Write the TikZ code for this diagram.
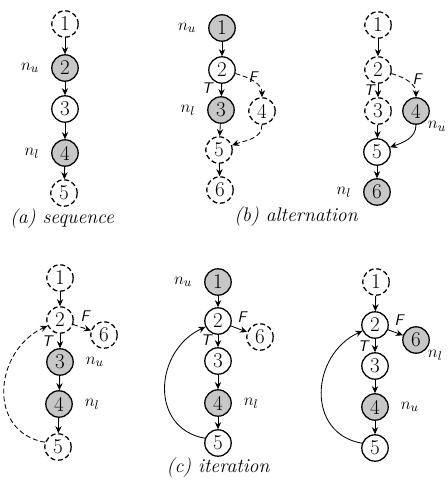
\documentclass[tikz,border=0pt]{standalone}
\usepackage{amsmath}
\usepackage{amssymb}
\usepackage{tikz}
\usetikzlibrary{arrows.meta, positioning}

\begin{document}
\begin{tikzpicture}[
x=0.025cm, y=0.025cm,
vtx/.style={circle, draw, line width=0.9pt, minimum size=0.66cm, inner sep=0pt, font=\fontsize{15}{17}\selectfont},
shd/.style={vtx, fill=black!22},
ghost/.style={vtx, dash pattern=on 3.5pt off 2pt},
arrow/.style={-{Stealth[length=5pt, width=4.5pt]}, semithick},
dsh/.style={dash pattern=on 3.5pt off 2pt},
lbl/.style={font=\fontsize{13}{15}\selectfont},
tf/.style={font=\sffamily\itshape\fontsize{11}{13}\selectfont},
capt/.style={font=\itshape\fontsize{14}{16}\selectfont}
]
\useasboundingbox (0,0) rectangle (447,-491);

% (a) sequence
\node[ghost] (a1) at (65,-24) {1};
\node[shd] (a2) at (65,-68) {2};
\node[vtx] (a3) at (65,-109) {3};
\node[shd] (a4) at (65,-153) {4};
\node[ghost] (a5) at (64,-193) {5};
\node[lbl, left=5pt of a2] (a2u) {$n_u$};
\node[lbl, left=5pt of a4] (a4l) {$n_l$};
\node[capt] (acap) at (62,-219) {(a) sequence};

\draw[arrow] (a1) -- (a2);
\draw[arrow] (a2) -- (a3);
\draw[arrow] (a3) -- (a4);
\draw[arrow] (a4) -- (a5);

% (b) alternation, first case
\node[shd] (b1) at (222,-28) {1};
\node[vtx] (b2) at (222,-70) {2};
\node[shd] (b3) at (221,-110) {3};
\node[ghost] (b4) at (262,-111) {4};
\node[ghost] (b5) at (219,-150) {5};
\node[ghost] (b6) at (220,-190) {6};
\node[lbl, left=5pt of b1] (b1u) {$n_u$};
\node[lbl, left=5pt of b3] (b3l) {$n_l$};
\node[tf] (bT) at (207,-88) {T};
\node[tf] (bF) at (253,-77) {F};

\draw[arrow] (b1) -- (b2);
\draw[arrow] (b2) -- (b3);
\draw[arrow, dsh] (b2.-15) to[out=-15, in=90] (b4.north);
\draw[arrow] (b3) -- (b5);
\draw[arrow, dsh] (b4.south) to[out=-90, in=20] (b5.20);
\draw[arrow] (b5) -- (b6);

% (b) alternation, second case
\node[ghost] (c1) at (378,-25) {1};
\node[ghost] (c2) at (378,-70) {2};
\node[ghost] (c3) at (378,-111) {3};
\node[shd] (c4) at (416,-111) {4};
\node[vtx] (c5) at (377,-152) {5};
\node[shd] (c6) at (377,-192) {6};
\node[lbl, below right=-3pt and -2pt of c4] (c4u) {$n_u$};
\node[lbl, left=5pt of c6] (c6l) {$n_l$};
\node[tf] (cT) at (369,-90) {T};
\node[tf] (cF) at (417,-79) {F};
\node[capt] (bcap) at (296,-217) {(b) alternation};

\draw[arrow] (c1) -- (c2);
\draw[arrow] (c2) -- (c3);
\draw[arrow, dsh] (c2.-15) to[out=-15, in=90] (c4.north);
\draw[arrow] (c3) -- (c5);
\draw[arrow] (c4.south) to[out=-90, in=20] (c5.20);
\draw[arrow] (c5) -- (c6);

% (c) iteration, first case
\node[ghost] (d1) at (60,-278) {1};
\node[ghost] (d2) at (60,-320) {2};
\node[ghost] (d6) at (104,-335) {6};
\node[shd] (d3) at (60,-362) {3};
\node[shd] (d4) at (59,-404) {4};
\node[ghost] (d5) at (58,-447) {5};
\node[lbl, right=5pt of d3] (d3u) {$n_u$};
\node[lbl, right=5pt of d4] (d4l) {$n_l$};
\node[tf] (dT) at (47,-341) {T};
\node[tf] (dF) at (85,-316) {F};

\draw[arrow] (d1) -- (d2);
\draw[arrow, dsh] (d2) -- (d6);
\draw[arrow] (d2) -- (d3);
\draw[arrow] (d3) -- (d4);
\draw[arrow] (d4) -- (d5);
\draw[arrow, dsh] (d5.160) to[out=170, in=205, looseness=1.3] (d2.205);

% (c) iteration, second case
\node[shd] (e1) at (218,-282) {1};
\node[vtx] (e2) at (218,-321) {2};
\node[ghost] (e6) at (260,-337) {6};
\node[vtx] (e3) at (218,-361) {3};
\node[shd] (e4) at (218,-403) {4};
\node[vtx] (e5) at (218,-443) {5};
\node[lbl, left=5pt of e1] (e1u) {$n_u$};
\node[lbl, right=5pt of e4] (e4l) {$n_l$};
\node[tf] (eT) at (206,-340) {T};
\node[tf] (eF) at (242,-317) {F};
\node[capt] (ccap) at (218,-468) {(c) iteration};

\draw[arrow] (e1) -- (e2);
\draw[arrow] (e2) -- (e6);
\draw[arrow] (e2) -- (e3);
\draw[arrow] (e3) -- (e4);
\draw[arrow] (e4) -- (e5);
\draw[arrow] (e5.160) to[out=170, in=205, looseness=1.3] (e2.205);

% (c) iteration, third case
\node[ghost] (f1) at (376,-282) {1};
\node[vtx] (f2) at (375,-325) {2};
\node[shd] (f6) at (416,-340) {6};
\node[vtx] (f3) at (375,-366) {3};
\node[shd] (f4) at (375,-407) {4};
\node[vtx] (f5) at (375,-448) {5};
\node[lbl, below right=-3pt and -2pt of f6] (f6l) {$n_l$};
\node[lbl, right=5pt of f4] (f4u) {$n_u$};
\node[tf] (fT) at (363,-346) {T};
\node[tf] (fF) at (399,-320) {F};

\draw[arrow] (f1) -- (f2);
\draw[arrow] (f2) -- (f6);
\draw[arrow] (f2) -- (f3);
\draw[arrow] (f3) -- (f4);
\draw[arrow] (f4) -- (f5);
\draw[arrow] (f5.160) to[out=170, in=205, looseness=1.3] (f2.205);

\end{tikzpicture}
\end{document}
